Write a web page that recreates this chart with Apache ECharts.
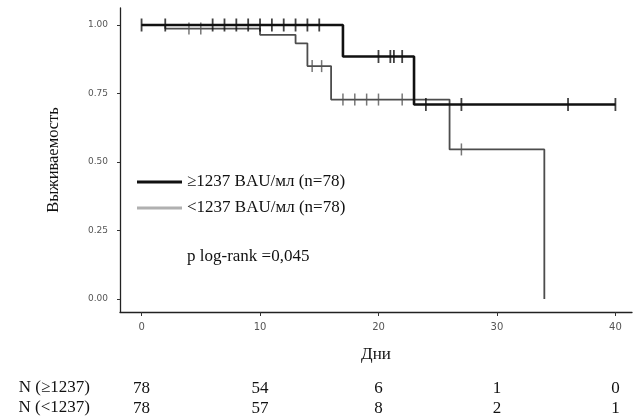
<!DOCTYPE html>
<html>
<head>
<meta charset="utf-8">
<script src="https://cdn.jsdelivr.net/npm/echarts@6/dist/echarts.min.js"></script>
<style>html,body{margin:0;padding:0;background:#fff}#c{width:635px;height:420px}</style>
</head>
<body>
<div id="c"></div>
<script>
// Kaplan–Meier step data (event times and survival after each event)
var highName = '≥1237 BAU/мл (n=78)';
var lowName = '<1237 BAU/мл (n=78)';
var highTimes = [0, 17, 23, 40];
var highSurv = [1.00, 0.885, 0.71, 0.71];
var lowTimes = [0, 2, 10, 13, 14, 16, 26, 34];
var lowSurv = [1.00, 0.987, 0.964, 0.933, 0.85, 0.728, 0.546, 0.00];
// censoring times
var highCensor = [0, 2, 6, 7, 8, 9, 10, 11, 12, 13, 14, 15, 20, 21, 21.3, 22, 24, 27, 36, 40];
var lowCensor = [4, 5, 14.4, 15.2, 17, 18, 19, 20, 22, 27];
// axis ticks
var xTicks = [0, 10, 20, 30, 40];
var yTicks = [0, 0.25, 0.5, 0.75, 1.0];
// numbers at risk
var riskTimes = [0, 10, 20, 30, 40];
var riskHigh = [78, 54, 6, 1, 0];
var riskLow = [78, 57, 8, 2, 1];
var riskLabels = ['N (≥1237)', 'N (<1237)'];
var pText = 'p log-rank =0,045';

function zip(a, b) { return a.map(function (v, i) { return [v, b[i]]; }); }
function survAt(times, surv, t) {
  var s = surv[0];
  for (var i = 0; i < times.length; i++) { if (times[i] <= t) s = surv[i]; }
  return s;
}
var serif = "'Liberation Serif','Times New Roman',serif";
var xMin = -1.82, xMax = 41.4;

function riskAxis(offset, arr) {
  return {
    type: 'value', gridIndex: 0, position: 'bottom', offset: offset,
    min: xMin, max: xMax,
    axisLine: { show: false }, axisTick: { show: false }, splitLine: { show: false },
    axisLabel: {
      customValues: riskTimes, margin: 0, verticalAlign: 'middle',
      fontFamily: serif, fontSize: 17, color: '#111',
      formatter: function (v) { var i = riskTimes.indexOf(v); return i >= 0 ? String(arr[i]) : ''; }
    }
  };
}

var chart = echarts.init(document.getElementById('c'), null, { renderer: 'canvas' });
chart.setOption({
  animation: false,
  backgroundColor: '#fff',
  grid: { left: 120, right: 3, top: 8, bottom: 108, containLabel: false },
  xAxis: [{
    type: 'value', min: xMin, max: xMax,
    name: 'Дни', nameLocation: 'middle', nameGap: 34,
    nameTextStyle: { fontFamily: serif, fontSize: 17, color: '#111' },
    axisLine: { show: true, onZero: false, lineStyle: { color: '#222', width: 1.3 } },
    axisTick: { show: true, length: 4, customValues: xTicks, lineStyle: { color: '#333' } },
    axisLabel: { customValues: xTicks, margin: 10, fontSize: 10, color: '#555', fontFamily: 'DejaVu Sans' },
    splitLine: { show: false }
  }, riskAxis(77, riskHigh), riskAxis(97, riskLow)],
  yAxis: {
    type: 'value', min: -0.047, max: 1.062,
    name: 'Выживаемость', nameLocation: 'middle', nameGap: 58, nameRotate: 90,
    nameTextStyle: { fontFamily: serif, fontSize: 16.5, color: '#111' },
    axisLine: { show: true, onZero: false, lineStyle: { color: '#222', width: 1.3 } },
    axisTick: { show: true, length: 3, customValues: yTicks, lineStyle: { color: '#333' } },
    axisLabel: { customValues: yTicks, margin: 12, fontSize: 9, color: '#555', fontFamily: 'DejaVu Sans',
      formatter: function (v) { return v.toFixed(2); } },
    splitLine: { show: false }
  },
  legend: {
    orient: 'vertical', left: 132, top: 167, itemGap: 6,
    itemWidth: 45, itemHeight: 3, icon: 'rect',
    textStyle: { fontFamily: serif, fontSize: 17, color: '#111', lineHeight: 20 },
    data: [
      { name: highName, itemStyle: { color: '#111' } },
      { name: lowName, itemStyle: { color: '#b0b0b0' } }
    ]
  },
  graphic: [{
    type: 'text', left: 187, top: 248,
    style: { text: pText, font: '17px ' + serif, fill: '#111' }
  }, {
    type: 'text', right: 545, top: 379,
    style: { text: riskLabels[0], font: '17px ' + serif, fill: '#111', textAlign: 'right' }
  }, {
    type: 'text', right: 545, top: 399,
    style: { text: riskLabels[1], font: '17px ' + serif, fill: '#111', textAlign: 'right' }
  }],
  series: [
    {
      name: lowName, type: 'line', step: 'end', symbol: 'none', z: 2,
      data: zip(lowTimes, lowSurv),
      lineStyle: { color: '#4d4d4d', width: 1.8 }, itemStyle: { color: '#4d4d4d' }
    },
    {
      name: 'lowCens', type: 'scatter', symbol: 'rect', symbolSize: [1.5, 12], z: 3,
      data: lowCensor.map(function (t) { return [t, survAt(lowTimes, lowSurv, t)]; }),
      itemStyle: { color: '#555' }
    },
    {
      name: highName, type: 'line', step: 'end', symbol: 'none', z: 4,
      data: zip(highTimes, highSurv),
      lineStyle: { color: '#111', width: 2.6 }, itemStyle: { color: '#111' }
    },
    {
      name: 'highCens', type: 'scatter', symbol: 'rect', symbolSize: [1.8, 13], z: 5,
      data: highCensor.map(function (t) { return [t, survAt(highTimes, highSurv, t)]; }),
      itemStyle: { color: '#111' }
    }
  ]
});
</script>
</body>
</html>
